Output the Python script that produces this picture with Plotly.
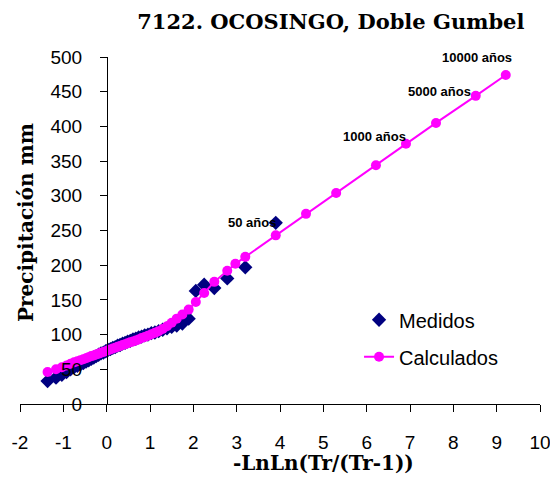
import plotly.graph_objects as go

# -LnLn(Tr/(Tr-1)) for the measured (sorted) record
x_medidos = [-1.364, -1.169, -1.034, -0.926, -0.834, -0.752, -0.676, -0.606, -0.539, -0.476,
             -0.415, -0.356, -0.298, -0.241, -0.186, -0.131, -0.076, -0.021, 0.033, 0.087,
             0.142, 0.197, 0.253, 0.309, 0.367, 0.425, 0.484, 0.545, 0.607, 0.672,
             0.738, 0.807, 0.878, 0.953, 1.031, 1.113, 1.200, 1.293, 1.392, 1.500,
             1.617, 1.747, 1.892, 2.057, 2.250, 2.484, 2.783, 3.199, 3.902]
y_medidos = [33, 38, 42, 46, 50, 53, 55, 57, 59, 61,
             63, 65, 67, 69, 71, 73, 74, 76, 78, 79,
             81, 82, 84, 85, 87, 88, 90, 91, 93, 94,
             96, 97, 99, 100, 102, 103, 105, 107, 109, 111,
             113, 116, 123, 163, 172, 167, 181, 197, 261]

# calculated double Gumbel values (measured positions plus design return periods)
x_calculados = [-1.364, -1.169, -1.034, -0.926, -0.834, -0.752, -0.676, -0.606, -0.539, -0.476,
                -0.415, -0.356, -0.298, -0.241, -0.186, -0.131, -0.076, -0.021, 0.033, 0.087,
                0.142, 0.197, 0.253, 0.309, 0.367, 0.425, 0.484, 0.545, 0.607, 0.672,
                0.738, 0.807, 0.878, 0.953, 1.031, 1.113, 1.200, 1.293, 1.392, 1.500,
                1.617, 1.747, 1.892, 2.057, 2.250, 2.484, 2.783, 2.970, 3.199, 3.902,
                4.600, 5.296, 6.214, 6.907, 7.600, 8.517, 9.210]
y_calculados = [46, 50, 53, 55.5, 58, 60, 61.5, 63, 64.5, 66,
                67.5, 69, 70, 71.5, 72.5, 74, 75, 76, 77.5, 78.5,
                80, 81, 82.5, 83.5, 85, 86, 87.5, 89, 90, 91.5,
                93, 95, 96.5, 98.5, 100.5, 102.5, 105, 108, 112, 117,
                123, 129, 136, 147, 160, 176, 192, 202, 212, 243,
                274, 304, 344, 375, 405, 444, 474]

x_ticks = [-2, -1, 0, 1, 2, 3, 4, 5, 6, 7, 8, 9, 10]
x_ticktext = ['-2', '-1', '0', '1', '2', '3', '4', '5', '6', '7', '8', '9', '10']

etiquetas = ['50 años', '1000 años', '5000 años', '10000 años']
etiquetas_x = [3.35, 6.19, 7.69, 8.55]
etiquetas_y = [261, 385, 451, 500]

serif = 'DejaVu Serif, Liberation Serif, serif'
sans = 'Liberation Sans, Arial, sans-serif'

fig = go.Figure()

fig.add_trace(go.Scatter(
    x=x_medidos, y=y_medidos,
    name='Medidos', mode='markers',
    marker=dict(symbol='diamond', size=11, color='#000080'),
    legendgroup='a'
))

fig.add_trace(go.Scatter(
    x=x_calculados, y=y_calculados,
    name='Calculados', mode='lines+markers',
    line=dict(color='#FF00FF', width=2),
    marker=dict(symbol='circle', size=10, color='#FF00FF'),
    legendgroup='b'
))

for txt, ax, ay in zip(etiquetas, etiquetas_x, etiquetas_y):
    fig.add_annotation(
        x=ax, y=ay, text=txt, showarrow=False,
        font=dict(family='Liberation Sans Narrow, Liberation Sans',
                  size=13, color='black', weight='bold')
    )

# axis titles as annotations (Excel centres them off the plot area)
fig.add_annotation(
    x=0.583, y=-0.17, xref='paper', yref='paper', showarrow=False,
    text='<b>-LnLn(Tr/(Tr-1))</b>', xanchor='center', yanchor='middle',
    font=dict(family=serif, size=20, color='black')
)
fig.add_annotation(
    x=0.0115, y=0.5245, xref='paper', yref='paper', showarrow=False,
    text='<b>Precipitación mm</b>', textangle=-90, xanchor='center', yanchor='middle',
    font=dict(family=serif, size=20, color='black')
)

# page body adds an 8px margin, so the figure is sized/offset to fit the window
fig.update_layout(
    width=550, height=469,
    paper_bgcolor='white', plot_bgcolor='white',
    margin=dict(l=12, r=18, t=49, b=73, autoexpand=False),
    title=dict(text='<b>7122. OCOSINGO, Doble Gumbel</b>', x=0.587, xanchor='center',
               y=0.970, yanchor='middle',
               font=dict(family=serif, size=21, color='black')),
    xaxis=dict(
        range=[-2, 10], tickvals=x_ticks, ticktext=x_ticktext,
        showgrid=False, zeroline=False, automargin=False,
        showline=True, linecolor='black', linewidth=1,
        ticks='outside', ticklen=7, tickcolor='black',
        ticklabelstandoff=14, ticklabeloverflow='allow',
        tickfont=dict(family=sans, size=19, color='black')
    ),
    yaxis=dict(
        range=[0, 500], dtick=50, showgrid=False, zeroline=False,
        anchor='free', position=0.1673, automargin=False,
        showline=True, linecolor='black', linewidth=1,
        ticks='outside', ticklen=7, tickcolor='black',
        ticklabelstandoff=14,
        tickfont=dict(family=sans, size=19, color='black')
    ),
    legend=dict(x=0.652, y=0.299, xanchor='left', yanchor='top',
                bgcolor='rgba(0,0,0,0)', tracegroupgap=8,
                font=dict(family=sans, size=20, color='black')),
    showlegend=True
)

fig.write_html('out.html')
